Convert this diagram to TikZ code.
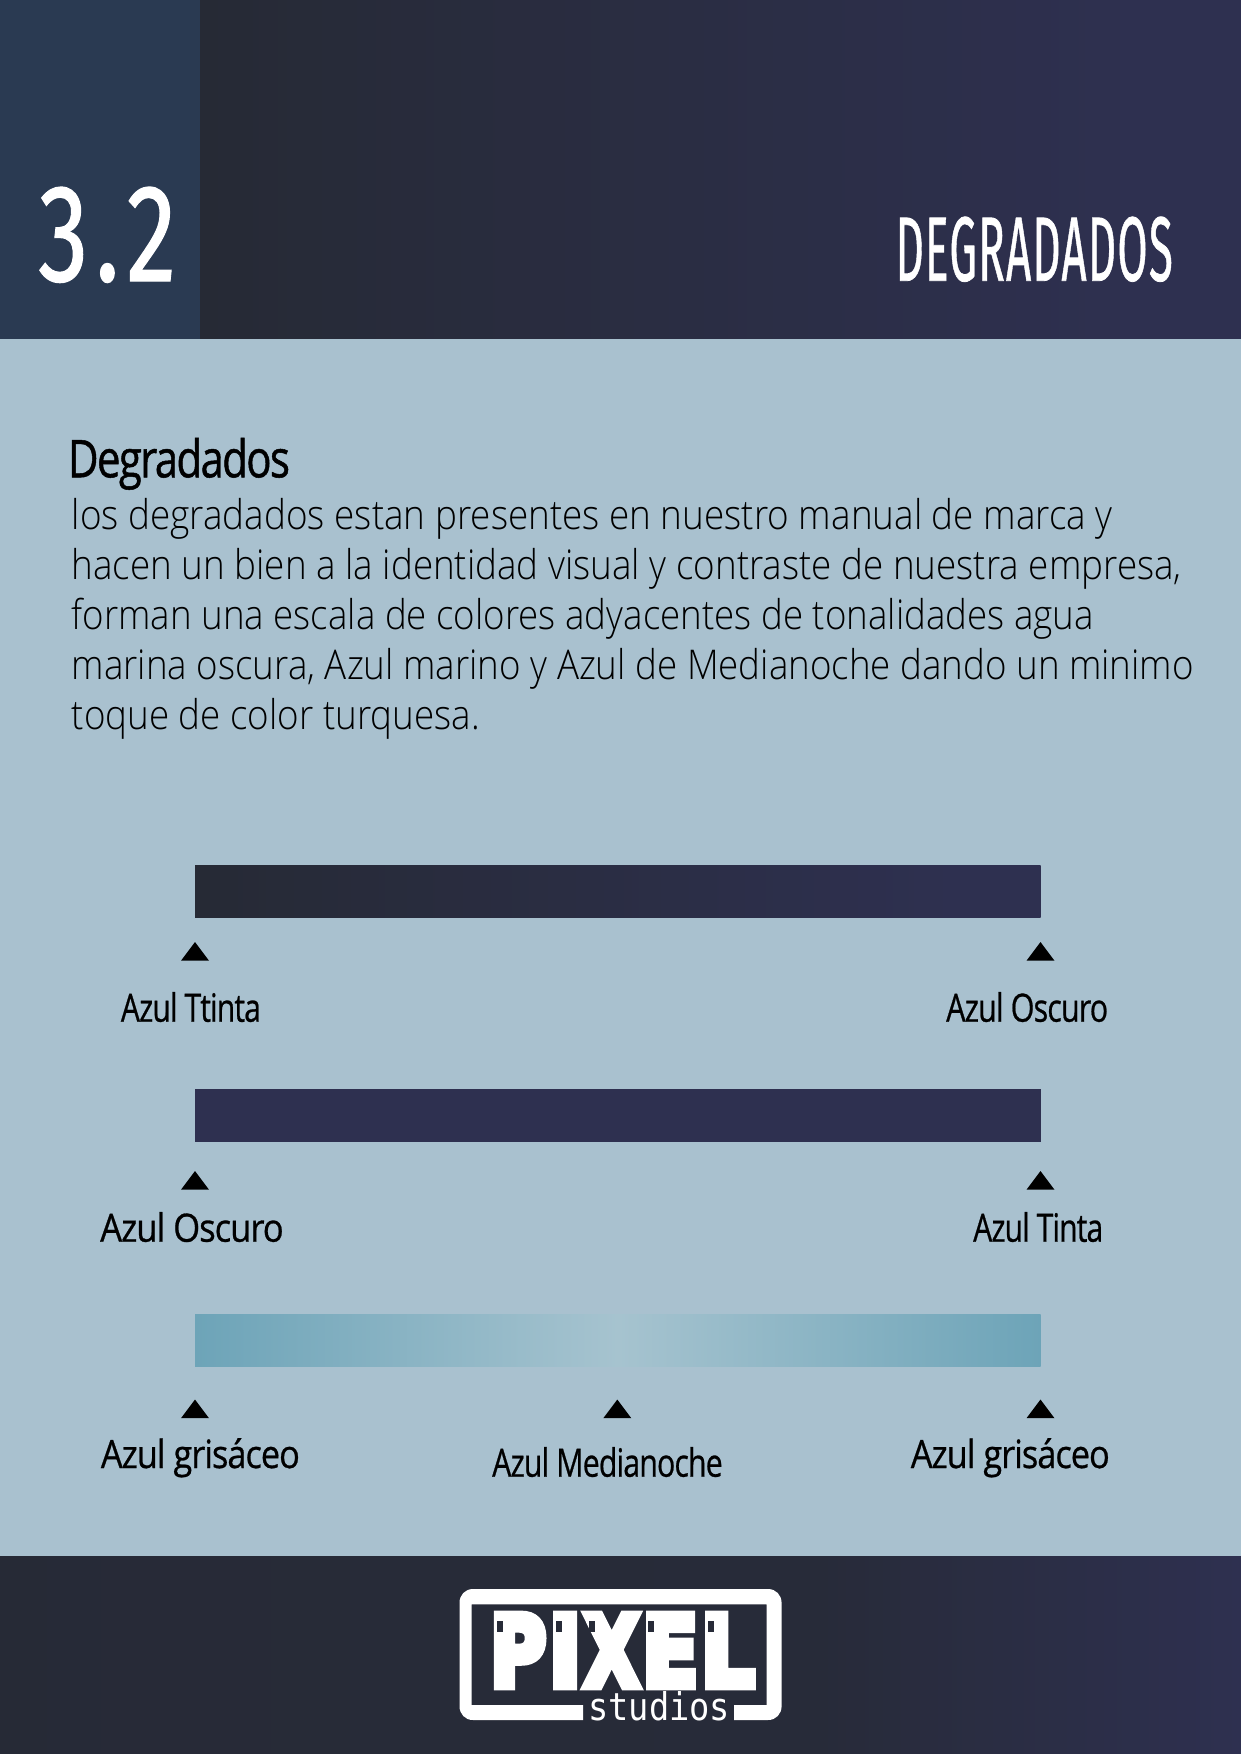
\documentclass[tikz,border=0pt]{standalone}
\usepackage{fontspec}
\usepackage{graphicx}
\setmainfont{Open Sans}
\newfontfamily\labfont[FakeBold=0.7,LetterSpace=-3]{Open Sans}
\newfontfamily\titlefont[FakeBold=1,LetterSpace=-4]{Open Sans}
\newfontfamily\bodylight{Open Sans Light}
\newfontfamily\condfont[FakeBold=0.9,LetterSpace=3]{Fira Sans}
\newfontfamily\numfont[FakeBold=0.9,LetterSpace=7]{Fira Sans}
\newfontfamily\logofont[FakeBold=9]{DejaVu Sans Bold}
\newfontfamily\logosmall{DejaVu Sans Mono}
\definecolor{pagebg}{HTML}{A9C1CF}
\definecolor{tinta}{HTML}{262A35}
\definecolor{oscuro}{HTML}{2E3050}
\definecolor{block}{HTML}{2A3A52}
\definecolor{gris}{HTML}{6DA4B8}
\definecolor{media}{HTML}{A6C3CF}
\pgfdeclarehorizontalshading{tintaoscuro}{100bp}{color(0bp)=(tinta); color(25bp)=(tinta); color(70bp)=(oscuro); color(100bp)=(oscuro)}
\pgfdeclarehorizontalshading{foot}{100bp}{color(0bp)=(tinta!95!oscuro); color(25bp)=(tinta!95!oscuro); color(58bp)=(tinta!85!oscuro); color(75bp)=(oscuro); color(100bp)=(oscuro)}
\pgfdeclarehorizontalshading{grisbar}{100bp}{color(0bp)=(gris); color(25bp)=(gris); color(50bp)=(media); color(75bp)=(gris); color(100bp)=(gris)}
\tikzset{
  lab/.style={anchor=base west,inner sep=0pt,text=black,font=\labfont\fontsize{39}{39}\selectfont},
  tick/.style={fill=black,draw=none},
  body/.style={anchor=base west,inner sep=0pt,text=black,font=\bodylight\fontsize{41}{50}\selectfont},
  cond/.style={anchor=base west,inner sep=0pt,text=white},
}
\newcommand{\fitlab}[2]{\resizebox{#1pt}{\height}{#2}}
\newcommand{\logoletter}[2]{\resizebox{#1pt}{71pt}{#2}}
\begin{document}
\begin{tikzpicture}[x=1pt,y=-1pt]
\useasboundingbox (0,0) rectangle (1241,1754);
\fill[pagebg] (0,0) rectangle (1241,1754);
% header
\shade[shading=tintaoscuro] (200,0) rectangle (1241,338);
\fill[block] (0,0) rectangle (200,338.5);
\node[cond] (num) at (38,281) {\numfont\resizebox{138pt}{94pt}{3.2}};
\node[cond] (head) at (895.5,280.7) {\condfont\resizebox{277pt}{64pt}{DEGRADADOS}};
% intro
\node[anchor=base west,inner sep=0pt,font=\titlefont\fontsize{52}{52}\selectfont] (title) at (67.8,477.3) {\fitlab{222}{Degradados}};
\node[body] (l1) at (71.5,529.5) {\fitlab{1041}{los degradados estan presentes en nuestro manual de marca y}};
\node[body] (l2) at (71.5,579.7) {\fitlab{1110}{hacen un bien a la identidad visual y contraste de nuestra empresa,}};
\node[body] (l3) at (71.5,629.7) {\fitlab{1022}{forman una escala de colores adyacentes de tonalidades agua}};
\node[body] (l4) at (71.5,679.5) {\fitlab{1122}{marina oscura, Azul marino y Azul de Medianoche dando un minimo}};
\node[body] (l5) at (71.5,729.5) {\fitlab{408}{toque de color turquesa.}};
% bars
\shade[shading=tintaoscuro] (195,865) rectangle (1040.7,917.7);
\fill[oscuro] (195,1089.3) rectangle (1040.7,1141.7);
\shade[shading=grisbar] (195,1314) rectangle (1040.7,1366.7);
% ticks
\foreach \cx/\ty in {195/942,1040.5/942,195/1171,1040.5/1171,195/1399.5,617.3/1399.5,1040.5/1399.5}{
  \fill[tick] (\cx,\ty) -- (\cx+14,\ty+18.7) -- (\cx-14,\ty+18.7) -- cycle;
}
% labels
\node[lab] (a1) at (120.7,1021.7) {\fitlab{140}{Azul Ttinta}};
\node[lab] (a2) at (946,1021.7) {\fitlab{162}{Azul Oscuro}};
\node[lab] (b1) at (100,1241.7) {\fitlab{183.5}{Azul Oscuro}};
\node[lab] (b2) at (973,1241.7) {\fitlab{130}{Azul Tinta}};
\node[lab] (c1) at (100.7,1468) {\fitlab{199}{Azul grisáceo}};
\node[lab] (c2) at (492,1476.7) {\fitlab{230.5}{Azul Medianoche}};
\node[lab] (c3) at (910.6,1468) {\fitlab{199}{Azul grisáceo}};
% footer
\shade[shading=foot] (0,1556) rectangle (1241,1754);
% logo frame
\fill[white] (583,1720) -- (473,1720) .. controls (465,1720) and (459.5,1714) .. (459.5,1706)
  -- (459.5,1603) .. controls (459.5,1595) and (465,1589) .. (473,1589)
  -- (768,1589) .. controls (776,1589) and (781.6,1595) .. (781.6,1603)
  -- (781.6,1706) .. controls (781.6,1714) and (776,1720) .. (768,1720)
  -- (734,1720) -- (734,1705) -- (766.7,1705) -- (766.7,1604.3) -- (471.7,1604.3) -- (471.7,1705) -- (583,1705) -- cycle;
\node[cond] (pixel) at (490,1686) {\logofont\logoletter{56}{P}\kern3pt\logoletter{32}{I}\kern3pt\logoletter{55}{X}\kern3pt\logoletter{56}{E}\kern3pt\logoletter{53}{L}};
\node[cond] (studios) at (588,1720) {\logosmall\resizebox{142pt}{29pt}{studios}};
\foreach \nx in {496.7,555.7,589,648.3,708.3}{
  \fill[tinta!88!oscuro] (\nx,1621) rectangle (\nx+6,1632);
}
\end{tikzpicture}
\end{document}
